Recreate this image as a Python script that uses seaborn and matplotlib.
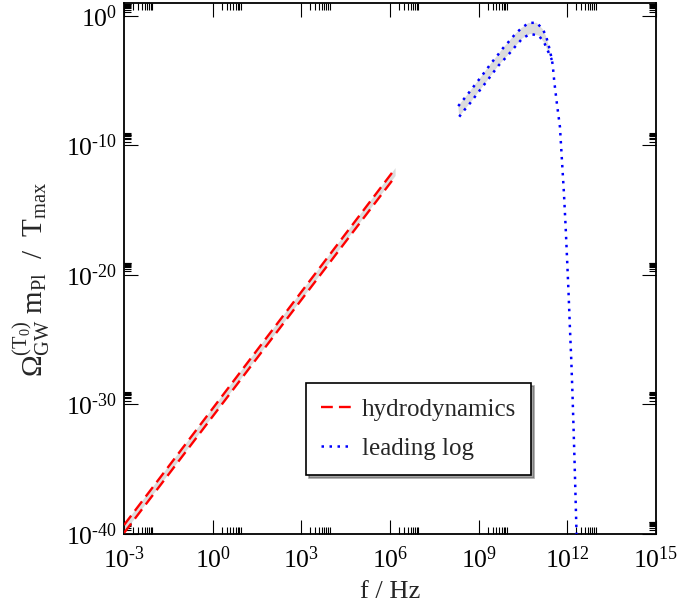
import numpy as np
import pandas as pd
import matplotlib
matplotlib.use("Agg")
import matplotlib.pyplot as plt
import seaborn as sns
from matplotlib.ticker import FixedLocator, FixedFormatter, NullFormatter

# ---------------- data ----------------
hydro_f = [1e-3, 1e0, 1e3, 1.55e6]
hydro_hi = [4.9e-40, 4.9e-31, 4.9e-22, 1.8e-12]
hydro_lo = [1.2e-40, 1.2e-31, 1.2e-22, 4.4e-13]

ll_hi_f = [2.04e8, 3.18e8, 4.95e8, 7.66e8, 1.17e9, 1.80e9, 2.75e9, 4.25e9,
           6.62e9, 1.03e10, 1.69e10, 2.75e10, 4.91e10, 9.15e10, 1.49e11,
           1.93e11, 2.38e11, 2.79e11, 3.18e11, 3.63e11, 4.45e11, 5.62e11,
           6.56e11, 7.67e11, 8.77e11, 9.84e11, 1.10e12, 1.22e12, 1.36e12,
           1.49e12, 1.62e12, 1.75e12, 1.88e12, 2.02e12, 2.10e12]
ll_hi = [1.1e-7, 3.9e-7, 1.4e-6, 5.2e-6, 1.8e-5, 6.8e-5, 2.5e-4, 8.5e-4,
         3.2e-3, 1.0e-2, 3.8e-2, 0.11, 0.29, 0.30, 9.3e-2,
         2.5e-2, 4.3e-3, 9.1e-4, 1.9e-4, 7.9e-6, 1.6e-7, 2.7e-9,
         7.6e-12, 2.1e-14, 5.0e-17, 1.4e-19, 4.1e-22, 9.5e-25, 2.7e-27,
         7.6e-30, 1.8e-32, 5.1e-35, 1.4e-37, 3.5e-40, 1e-41]

ll_lo_f = [2.20e8, 3.44e8, 5.36e8, 8.28e8, 1.26e9, 1.95e9, 2.97e9, 4.59e9,
           7.33e9, 1.17e10, 1.87e10, 3.07e10, 5.56e10, 1.09e11, 1.66e11, 3.0e11]
ll_lo = [1.66e-8, 6.2e-8, 2.1e-7, 7.9e-7, 2.8e-6, 1.0e-5, 3.7e-5, 1.4e-4,
         4.5e-4, 1.5e-3, 5.4e-3, 1.9e-2, 4.1e-2, 3.0e-2, 8.5e-3, 4.0e-4]

legend_labels = ["hydrodynamics", "leading log"]
x_major = [1e-3, 1e0, 1e3, 1e6, 1e9, 1e12, 1e15]
x_major_labels = ["-3", "0", "3", "6", "9", "12", "15"]
y_major = [1e-40, 1e-30, 1e-20, 1e-10, 1e0]
y_major_labels = ["-40", "-30", "-20", "-10", "0"]


def exp_label(s):
    # keep a plain hyphen for the exponent sign, as in the reference
    s = s.replace("-", r"\text{-}")
    return r"$\mathregular{10^{%s}}$" % s


# ---------------- style ----------------
sns.set_theme(style="ticks")
plt.rcParams.update({
    "font.family": ["Liberation Serif", "DejaVu Serif"],
    "mathtext.fontset": "custom",
    "mathtext.rm": "Liberation Serif",
    "mathtext.it": "Liberation Serif:italic",
    "mathtext.bf": "Liberation Serif:bold",
})

fig = plt.figure(figsize=(6.79, 6.08), dpi=100)
ax = fig.add_axes([124 / 679, 1 - 534 / 608, 532 / 679, 531 / 608])
ax.set_xscale("log")
ax.set_yscale("log")

band = "#dcdcdc"
# grey bands
ax.fill(list(hydro_f) + list(hydro_f)[::-1], list(hydro_hi) + list(hydro_lo)[::-1],
        color=band, lw=0, zorder=1)
n_up = sum(1 for f in ll_hi_f if f < ll_lo_f[-1])
ax.fill(list(ll_hi_f[:n_up]) + list(ll_lo_f)[::-1], list(ll_hi[:n_up]) + list(ll_lo)[::-1],
        color=band, lw=0, zorder=1)

red_ls = (0, (5, 2.6))
blue_ls = (0, (1, 2.2))
for yv in (hydro_hi, hydro_lo):
    sns.lineplot(x=hydro_f, y=yv, ax=ax, color="#ff0000", lw=1.7, linestyle=red_ls,
                 sort=False, estimator=None, zorder=3)
sns.lineplot(x=ll_hi_f, y=ll_hi, ax=ax, color="#0000ff", lw=1.8, linestyle=blue_ls,
             sort=False, estimator=None, zorder=3)
sns.lineplot(x=ll_lo_f, y=ll_lo, ax=ax, color="#0000ff", lw=1.8, linestyle=blue_ls,
             sort=False, estimator=None, zorder=3)

ax.set_xlim(1e-3, 1e15)
ax.set_ylim(1e-40, 1e1)

# ticks
ax.xaxis.set_major_locator(FixedLocator(x_major))
ax.xaxis.set_major_formatter(FixedFormatter([exp_label(s) for s in x_major_labels]))
ax.xaxis.set_minor_locator(FixedLocator([m * k for m in x_major[:-1] for k in range(2, 10)]))
ax.xaxis.set_minor_formatter(NullFormatter())
ax.yaxis.set_major_locator(FixedLocator(y_major))
ax.yaxis.set_major_formatter(FixedFormatter([exp_label(s) for s in y_major_labels]))
ax.yaxis.set_minor_locator(FixedLocator([m * k for m in y_major for k in range(2, 10)]))
ax.yaxis.set_minor_formatter(NullFormatter())

ax.tick_params(which="both", direction="in", top=True, right=True, colors="black",
               width=0.8, labelsize=18.5)
ax.tick_params(which="major", length=10)
ax.tick_params(which="minor", length=5)
ax.tick_params(axis="x", which="major", pad=9)
ax.tick_params(axis="y", which="major", pad=5)
for sp in ax.spines.values():
    sp.set_linewidth(1.3)
    sp.set_color("black")

ax.set_xlabel("f / Hz", fontsize=19, labelpad=6)
ax.set_ylabel(r"$\mathrm{\Omega_{GW}^{(T_0)}\ m_{Pl}\ \ /\ \ T_{max}}$", fontsize=21, labelpad=4)
ax.yaxis.set_label_coords(-0.135, 0.48)

lines = ax.get_lines()
handles = [lines[0], lines[2]]
leg = ax.legend(handles, legend_labels, loc="upper left", bbox_to_anchor=(0.342, 0.284),
                fontsize=18, frameon=True, fancybox=False, shadow=True, framealpha=1,
                edgecolor="black", borderpad=0.6, handlelength=1.2, handletextpad=0.45,
                labelspacing=0.68, borderaxespad=0)
leg.get_frame().set_linewidth(1.2)

fig.savefig("out.png", dpi=100)
